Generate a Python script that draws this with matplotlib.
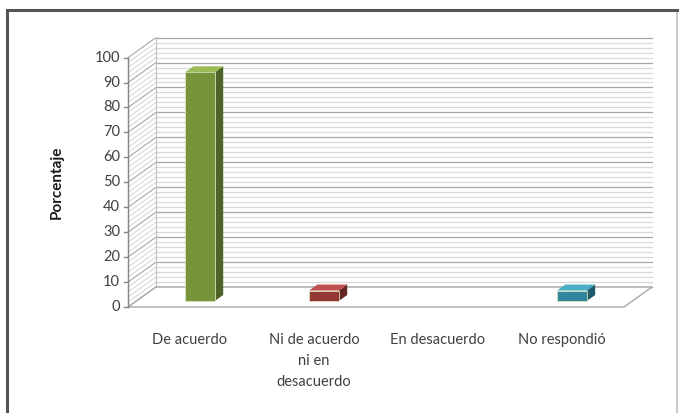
import matplotlib.pyplot as plt
from matplotlib.patches import Polygon, Rectangle

categories = ["De acuerdo", "Ni de acuerdo\nni en\ndesacuerdo", "En desacuerdo", "No respondió"]
values = [91.7, 4.2, 0, 4.2]
front_colors = ["#77933C", "#953735", "#4F81BD", "#31859C"]
top_colors = ["#9BBB59", "#C0504D", "#95B3D7", "#4BACC6"]
side_colors = ["#4F6228", "#632523", "#365F91", "#215968"]
yticks = list(range(0, 101, 10))

W, H = 682, 413
# pixel mapping (front plane): x0 px at category -0.5, 124 px per category; y 0 at 307 px, 2.494 px per unit
px_cat, x_left = 124.0, 128.0
px_unit, y_zero = 2.494, 307.0
xmin = -0.5 - x_left / px_cat
xmax = xmin + W / px_cat
ymax = y_zero / px_unit
ymin = ymax - H / px_unit

dx, dy = 28 / px_cat, 20 / px_unit   # depth offset of the back wall
n = len(categories)
xl, xr = -0.5, n - 0.5
txt = "#404040"

fig = plt.figure(figsize=(W / 100, H / 100), dpi=100)
ax = fig.add_axes([0, 0, 1, 1])
ax.set_xlim(xmin, xmax)
ax.set_ylim(ymin, ymax)
ax.axis("off")

# chart border
bx0, bx1 = xmin + 7 / px_cat, xmin + 677 / px_cat
btop = ymax - 10 / px_unit
ax.plot([bx1, bx1], [ymin, btop], color="#BFBFBF", lw=1.2, zorder=0)
ax.plot([bx0, bx0], [ymin, btop], color="#555555", lw=2.2, zorder=0)
ax.plot([bx0, bx1], [btop, btop], color="#555555", lw=2.2, zorder=0)

# back wall gridlines (minor every 2, major every 10)
for v in range(0, 101, 2):
    major = v % 10 == 0
    c = "#A6A6A6" if major else "#D9D9D9"
    ax.plot([xl + dx, xr + dx], [v + dy, v + dy], color=c, lw=0.9, zorder=1)
    ax.plot([xl, xl + dx], [v, v + dy], color=c, lw=0.8, zorder=1)
ax.plot([xl + dx, xl + dx], [dy, 100 + dy], color="#BFBFBF", lw=0.8, zorder=1)

# floor
floor = Polygon([(xl, 0), (xr, 0), (xr + dx, dy), (xl + dx, dy)], closed=True,
                facecolor="white", edgecolor="#A6A6A6", lw=1.0, zorder=2)
ax.add_patch(floor)

# value axis
ax.plot([xl, xl], [0, 100], color="#868686", lw=1.0, zorder=3)
for v in yticks:
    ax.plot([xl - 4 / px_cat, xl], [v, v], color="#868686", lw=1.0, zorder=3)
    ax.text(xl - 8 / px_cat, v, str(v), ha="right", va="center", fontsize=10.5, color=txt,
            family="Lato")

# bars at mid depth
bw = 0.24
bd = 0.3
for i, val in enumerate(values):
    if val <= 0:
        continue
    x0 = i - bw / 2 + 0.08
    b0 = dy * 0.3
    ox, oy = dx * bd, dy * bd
    front = Rectangle((x0, b0), bw, val, facecolor=front_colors[i], edgecolor="#D7E4BD",
                      lw=0.6, zorder=5)
    side = Polygon([(x0 + bw, b0), (x0 + bw + ox, b0 + oy), (x0 + bw + ox, b0 + val + oy), (x0 + bw, b0 + val)],
                   closed=True, facecolor=side_colors[i], edgecolor="none", zorder=5)
    top = Polygon([(x0, b0 + val), (x0 + bw, b0 + val), (x0 + bw + ox, b0 + val + oy), (x0 + ox, b0 + val + oy)],
                  closed=True, facecolor=top_colors[i], edgecolor="none", zorder=5)
    ax.add_patch(side)
    ax.add_patch(front)
    ax.add_patch(top)

# category labels
for i, lab in enumerate(categories):
    ax.text(i, -10.4, lab, ha="center", va="top", fontsize=10.5, color=txt,
            linespacing=1.65, family="Lato")

ax.text(xmin + 57 / px_cat, (y_zero - 182) / px_unit, "Porcentaje", rotation=90, ha="center", va="center",
        fontsize=11, fontweight="bold", color="#1A1A1A", family="Lato")

fig.savefig("out.png", dpi=100)
